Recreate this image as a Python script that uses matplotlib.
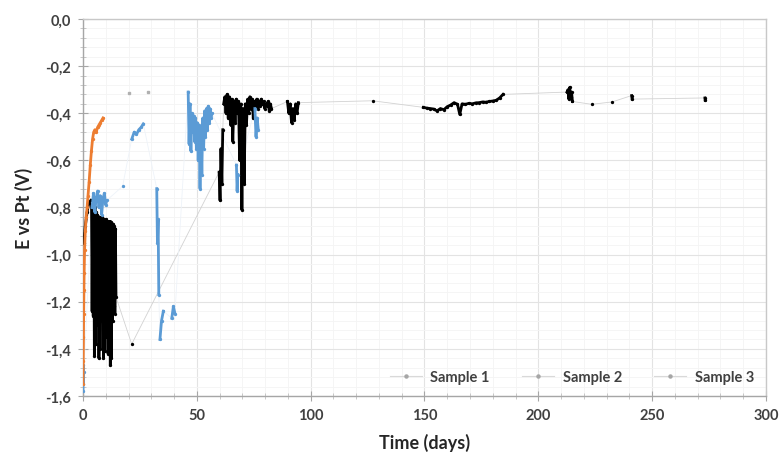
import matplotlib
matplotlib.use("Agg")
import matplotlib.pyplot as plt
from matplotlib.ticker import MultipleLocator, FuncFormatter
from matplotlib.lines import Line2D

# ---------------- data ----------------
# Sample 1 (black)
s1_start_t = [0.3, 1.0, 1.8, 2.6, 3.4]
s1_start_e = [-0.95, -0.88, -0.82, -0.78, -0.77]

s1_osc_t = [3.75, 4.0, 4.25, 4.5, 4.75, 5.0, 5.25, 5.5, 5.75, 6.0, 6.25, 6.5, 6.75, 7.0,
            7.25, 7.5, 7.75, 8.0, 8.25, 8.5, 8.75, 9.0, 9.25, 9.5, 9.75, 10.0, 10.25, 10.5,
            10.75, 11.0, 11.25, 11.5, 11.75, 12.0, 12.25, 12.5, 12.75, 13.0, 13.25, 13.5,
            13.75, 14.0, 14.25, 14.5]
s1_osc_e = [-0.79, -1.24, -0.80, -1.26, -0.81, -1.43, -0.80, -1.38, -0.82, -1.22, -0.83, -1.30,
            -0.84, -1.44, -0.84, -1.40, -0.85, -1.18, -0.84, -1.28, -0.85, -1.44, -0.85, -1.41,
            -0.86, -1.25, -0.85, -1.35, -0.86, -1.42, -0.86, -1.30, -0.86, -1.47, -0.86, -1.44,
            -0.87, -1.28, -0.87, -1.22, -0.88, -1.25, -0.89, -1.18]

s1_dot_t = [21.4]
s1_dot_e = [-1.38]

s1_d60_t = [59.8, 60.2, 60.6, 61.0, 61.4]
s1_d60_e = [-0.65, -0.77, -0.55, -0.70, -0.47]

s1_d70_t = [61.8, 62.3, 62.8, 63.3, 63.8, 64.3, 64.8, 65.3, 65.8, 66.3, 66.8, 67.3, 67.8, 68.3,
            68.8, 69.3, 69.8, 70.3, 70.8, 71.3, 71.8, 72.3, 72.8, 73.3, 73.8, 74.3, 74.8, 75.3,
            75.8, 76.3, 76.8, 77.3, 77.8, 78.3, 78.8, 79.3, 79.8, 80.3, 80.8, 81.3, 81.8, 82.3,
            82.8]
s1_d70_e = [-0.36, -0.33, -0.40, -0.32, -0.42, -0.33, -0.45, -0.34, -0.52, -0.35, -0.44, -0.34,
            -0.40, -0.35, -0.60, -0.36, -0.81, -0.38, -0.70, -0.36, -0.45, -0.34, -0.40, -0.33,
            -0.38, -0.34, -0.42, -0.35, -0.37, -0.34, -0.38, -0.35, -0.37, -0.34, -0.36, -0.35,
            -0.38, -0.36, -0.37, -0.35, -0.39, -0.36, -0.38]

s1_d92_t = [89.8, 90.4, 91.0, 91.6, 92.2, 92.8, 93.4, 94.0, 94.6]
s1_d92_e = [-0.35, -0.40, -0.36, -0.44, -0.38, -0.43, -0.36, -0.40, -0.355]

s1_d127_t = [127.2]
s1_d127_e = [-0.347]

s1_d165_t = [149.5, 151, 152.5, 154, 155.5, 157, 158.5, 160, 161.5, 163, 164.5, 165.5, 166.5,
             168, 169.5, 171, 172.5, 174, 175.5, 177, 178.5, 180, 181.5, 183, 184.5]
s1_d165_e = [-0.375, -0.378, -0.38, -0.382, -0.39, -0.38, -0.385, -0.372, -0.365, -0.355,
             -0.362, -0.405, -0.36, -0.362, -0.358, -0.36, -0.356, -0.355, -0.352, -0.353,
             -0.35, -0.348, -0.345, -0.335, -0.32]

s1_d213_t = [212.6, 213.0, 213.4, 213.8, 214.2, 214.6, 215.0]
s1_d213_e = [-0.31, -0.30, -0.34, -0.29, -0.33, -0.31, -0.35]

s1_d223_t = [223.4]
s1_d223_e = [-0.362]
s1_d232_t = [232.4]
s1_d232_e = [-0.352]
s1_d241_t = [241.0, 241.2]
s1_d241_e = [-0.325, -0.34]
s1_d273_t = [273.2, 273.3]
s1_d273_e = [-0.335, -0.345]

# Sample 2 (blue)
s2_start_t = [0.0, 0.1, 0.2, 0.3]
s2_start_e = [-1.58, -1.47, -1.55, -1.50]

s2_star_t = [4.0, 4.6, 5.2, 5.8, 6.4, 7.0, 7.6, 8.2, 8.8, 9.4, 10.0, 10.4]
s2_star_e = [-0.80, -0.74, -0.82, -0.76, -0.73, -0.80, -0.75, -0.83, -0.76, -0.74, -0.79, -0.77]

s2_d17_t = [17.4]
s2_d17_e = [-0.71]

s2_d24_t = [21.4, 22.5, 23.5, 24.5, 25.5, 26.5]
s2_d24_e = [-0.51, -0.48, -0.49, -0.47, -0.46, -0.445]

s2_d33_t = [32.4, 32.7, 33.0, 33.3]
s2_d33_e = [-0.72, -0.95, -0.85, -1.17]

s2_d34_t = [33.8, 34.5, 35.3]
s2_d34_e = [-1.36, -1.28, -1.24]

s2_d40_t = [39.0, 39.7, 40.4]
s2_d40_e = [-1.27, -1.22, -1.25]

s2_d50_t = [46.2, 46.6, 47.0, 47.4, 47.8, 48.2, 48.6, 49.0, 49.4, 49.8, 50.2, 50.6, 51.0, 51.4,
            51.8, 52.2, 52.6, 53.0, 53.4, 53.8, 54.2, 54.6, 55.0, 55.4, 55.8, 56.2, 56.6]
s2_d50_e = [-0.31, -0.53, -0.36, -0.56, -0.40, -0.48, -0.41, -0.52, -0.42, -0.55, -0.44, -0.60,
            -0.45, -0.72, -0.46, -0.66, -0.42, -0.55, -0.39, -0.50, -0.38, -0.47, -0.37, -0.44,
            -0.38, -0.42, -0.40]

s2_d68_t = [67.4, 67.7, 68.0]
s2_d68_e = [-0.62, -0.73, -0.66]

s2_d76_t = [75.5, 76.0, 76.5, 77.0]
s2_d76_e = [-0.38, -0.50, -0.42, -0.47]

# Sample 3 (orange)
s3_t = [0.0, 0.1, 0.2, 0.3, 0.4, 0.5, 0.7, 1.0, 1.4, 1.8, 2.2, 2.7, 3.2, 3.7, 4.2, 4.7,
        5.2, 5.8, 6.4, 7.0, 7.6, 8.2, 8.8]
s3_e = [-1.55, -1.45, -1.35, -1.25, -1.15, -1.08, -0.98, -0.90, -0.84, -0.80, -0.75, -0.69,
        -0.62, -0.56, -0.51, -0.48, -0.47, -0.48, -0.46, -0.45, -0.44, -0.43, -0.42]

# faint grey points near the top
grey_t = [20.3, 28.7]
grey_e = [-0.315, -0.309]

# ---------------- plot ----------------
plt.rcParams['font.family'] = ['Lato', 'DejaVu Sans']

fig = plt.figure(figsize=(7.8, 4.6), dpi=100)
ax = fig.add_axes([0.1064, 0.137, 0.8756, 0.8195])

series = [
    ('Sample 1', '#000000', '#d2d2d2',
     [(s1_start_t, s1_start_e), (s1_osc_t, s1_osc_e), (s1_dot_t, s1_dot_e),
      (s1_d60_t, s1_d60_e), (s1_d70_t, s1_d70_e), (s1_d92_t, s1_d92_e),
      (s1_d127_t, s1_d127_e), (s1_d165_t, s1_d165_e), (s1_d213_t, s1_d213_e),
      (s1_d223_t, s1_d223_e), (s1_d232_t, s1_d232_e), (s1_d241_t, s1_d241_e),
      (s1_d273_t, s1_d273_e)]),
    ('Sample 2', '#5b9bd5', '#eef3f9',
     [(s2_start_t, s2_start_e), (s2_star_t, s2_star_e), (s2_d17_t, s2_d17_e),
      (s2_d24_t, s2_d24_e), (s2_d33_t, s2_d33_e), (s2_d34_t, s2_d34_e),
      (s2_d40_t, s2_d40_e), (s2_d50_t, s2_d50_e), (s2_d68_t, s2_d68_e),
      (s2_d76_t, s2_d76_e)]),
    ('Sample 3', '#ed7d31', '#fbe5d6', [(s3_t, s3_e)]),
]

handles = []
for name, col, lcol, segs in series:
    all_t = [t for seg in segs for t in seg[0]]
    all_e = [e for seg in segs for e in seg[1]]
    # thin connector line through every point
    ax.plot(all_t, all_e, color=lcol, lw=0.6, zorder=2)
    for t, e in segs:
        ax.plot(t, e, color=col, lw=2.0, marker='o', ms=2.4, mew=0, zorder=3)
    handles.append(Line2D([], [], color='#d9d9d9', lw=0.8, marker='o', ms=2.2,
                          mfc='#a6a6a6', mec='#a6a6a6', label=name))

ax.plot(grey_t, grey_e, ls='none', marker='s', ms=2.0, color='#b0b0b0', zorder=3)

ax.set_xlim(0, 300)
ax.set_ylim(-1.6, 0.0)
ax.xaxis.set_major_locator(MultipleLocator(50))
ax.xaxis.set_minor_locator(MultipleLocator(10))
ax.yaxis.set_major_locator(MultipleLocator(0.2))
ax.yaxis.set_minor_locator(MultipleLocator(0.04))
ax.yaxis.set_major_formatter(FuncFormatter(lambda v, p: f"{v:.1f}".replace('.', ',').replace('-0,0', '0,0')))

ax.grid(which='major', color='#e3e3e3', lw=0.8, zorder=0)
ax.grid(which='minor', color='#f4f4f4', lw=0.6, zorder=0)
ax.set_axisbelow(True)

for s in ax.spines.values():
    s.set_color('#c8c8c8')
    s.set_linewidth(1.0)
ax.spines['left'].set_color('#a6a6a6')
ax.spines['bottom'].set_color('#a6a6a6')

ax.tick_params(which='major', direction='inout', length=7, color='#a6a6a6',
               labelsize=10.5, labelcolor='#404040', pad=5)
ax.tick_params(which='minor', direction='inout', length=4, color='#bfbfbf')
ax.tick_params(top=False, right=False, which='both')
for lab in ax.get_xticklabels() + ax.get_yticklabels():
    lab.set_fontweight('bold')

ax.set_xlabel('Time (days)', fontsize=13, fontweight='bold', color='#262626', labelpad=8)
ax.set_ylabel('E vs Pt (V)', fontsize=13, fontweight='bold', color='#262626', labelpad=9)

leg = ax.legend(handles=handles, loc='lower right', bbox_to_anchor=(1.0, 0.0), ncol=3,
                frameon=False, fontsize=10.5, handlelength=2.2, columnspacing=2.2,
                handletextpad=0.6, borderaxespad=0.4)
for txt in leg.get_texts():
    txt.set_fontweight('bold')
    txt.set_color('#404040')

fig.savefig('out.png', dpi=100)
